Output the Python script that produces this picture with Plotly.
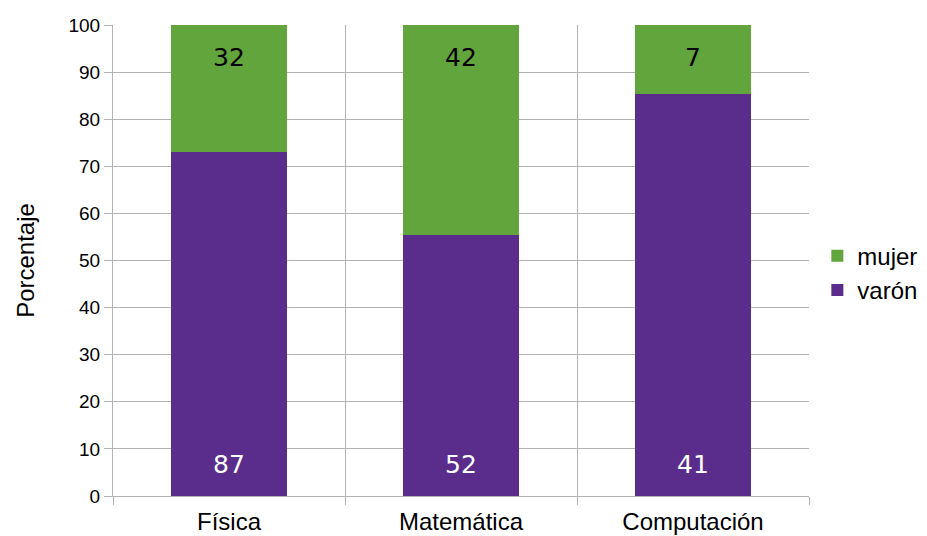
import plotly.graph_objects as go

categories = ["Física", "Matemática", "Computación"]
varon = [87, 52, 41]
mujer = [32, 42, 7]
y_ticks = [0, 10, 20, 30, 40, 50, 60, 70, 80, 90, 100]

fig = go.Figure()
fig.add_trace(go.Bar(
    x=categories, y=varon, name="varón",
    marker=dict(color="#5A2D8C", line=dict(width=0)),
    hoverinfo="skip",
))
fig.add_trace(go.Bar(
    x=categories, y=mujer, name="mujer",
    marker=dict(color="#62A53C", line=dict(width=0)),
    hoverinfo="skip",
))

# data labels: counts, placed at top of green segment and bottom of purple one
for c, v in zip(categories, varon):
    fig.add_annotation(x=c, y=0, xref="x", yref="y", text=str(v),
                       showarrow=False, yanchor="middle", yshift=32,
                       font=dict(family="DejaVu Sans", size=25, color="white"))
for c, m in zip(categories, mujer):
    fig.add_annotation(x=c, y=100, xref="x", yref="y", text=str(m),
                       showarrow=False, yanchor="middle", yshift=-32,
                       font=dict(family="DejaVu Sans", size=25, color="black"))

fig.update_layout(
    barmode="stack", barnorm="percent", bargap=0.5,
    width=927, height=536,
    margin=dict(l=105, r=120, t=17, b=48),
    paper_bgcolor="white", plot_bgcolor="white",
    font=dict(family="Liberation Sans", size=24, color="black"),
    legend=dict(
        x=1.012, xanchor="left", y=0.473, yanchor="middle",
        traceorder="reversed", font=dict(size=24),
        itemwidth=30, tracegroupgap=0,
    ),
    showlegend=True,
)
fig.update_xaxes(
    type="category", tickson="boundaries",
    ticks="outside", ticklen=8, tickcolor="#B3B3B3",
    showgrid=True, gridcolor="#B3B3B3", gridwidth=1,
    showline=True, linecolor="#B3B3B3", linewidth=1,
    tickfont=dict(size=24), automargin=False, ticklabelstandoff=4,
)
fig.update_yaxes(
    range=[0, 100], tickvals=y_ticks,
    ticks="outside", ticklen=8, tickcolor="#B3B3B3",
    showgrid=True, gridcolor="#B3B3B3", gridwidth=1,
    showline=True, linecolor="#B3B3B3", linewidth=1,
    zeroline=False, automargin=False,
    title=dict(text="Porcentaje", font=dict(size=24), standoff=27),
    tickfont=dict(size=19),
)

fig.write_html("out.html")
